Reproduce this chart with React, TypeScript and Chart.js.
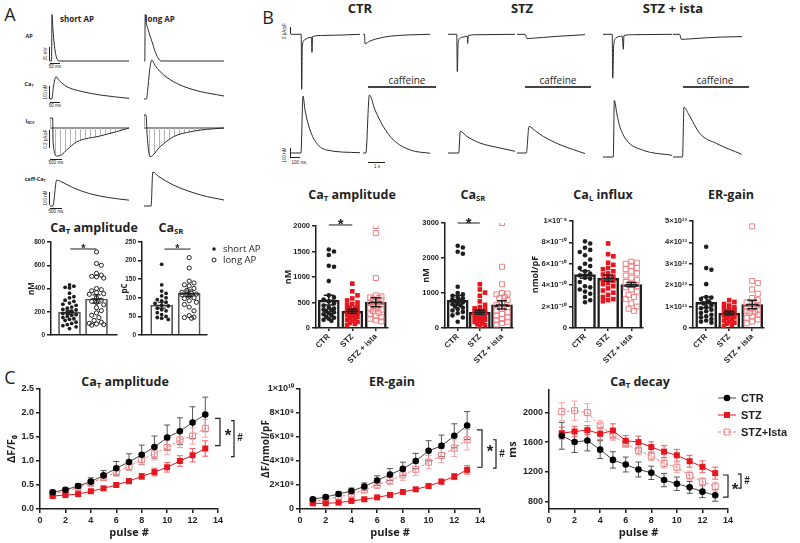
import React, { useEffect, useRef } from "react";
import { Chart, registerables } from "chart.js";

Chart.register(...registerables);

const FONT = "'Liberation Sans', Arial, sans-serif";
const TFONT = "'Open Sans', 'Liberation Sans', sans-serif";
const INK = "#1f1f1f";
const RED = "#e5161e";
const PINK = "#ee8085";
const GREY = "#555555";

// ================= DATA =================
// ---- Panel A (bar + scatter) ----
const aGroups = ["short AP", "long AP"];
const aAmpShort = [430, 420, 410, 405, 360, 330, 320, 300, 290, 275, 265, 255, 240, 230, 220, 215, 205, 195, 185, 175, 170, 160, 150, 140, 135, 125, 110, 100, 90, 80, 70, 55];
const aAmpLong = [715, 615, 600, 530, 515, 505, 500, 490, 400, 390, 380, 365, 355, 350, 320, 300, 290, 280, 260, 235, 210, 190, 170, 150, 125, 110, 100, 95, 90, 85];
const aAmpMean = [195, 310];
const aAmpSem = [18, 35];
const aAmpTicks = [0, 200, 400, 600, 800];
const aAmpTickLabels = ["0", "200", "400", "600", "800"];
const aSrShort = [190, 135, 118, 112, 105, 100, 95, 92, 88, 85, 80, 78, 72, 68, 65, 60, 55, 50, 47, 45, 42];
const aSrLong = [208, 180, 145, 140, 135, 132, 125, 120, 115, 112, 110, 110, 108, 105, 100, 98, 92, 88, 82, 75, 65, 52, 48, 47, 45];
const aSrMean = [80, 112];
const aSrSem = [8, 9];
const aSrTicks = [0, 50, 100, 150, 200, 250];
const aSrTickLabels = ["0", "50", "100", "150", "200", "250"];

// ---- Panel B (bar + scatter) ----
const bGroups = ["CTR", "STZ", "STZ + ista"];
const bAmpCTR = [1540, 1500, 1430, 1220, 1200, 920, 640, 600, 560, 520, 480, 440, 400, 380, 360, 350, 330, 310, 290, 270, 250, 220, 200, 180, 160, 140];
const bAmpSTZ = [870, 720, 640, 580, 540, 500, 470, 450, 420, 400, 385, 370, 355, 340, 330, 320, 310, 300, 290, 280, 270, 255, 240, 220, 200, 180, 160, 140, 120, 100, 80, 60];
const bAmpIsta = [2000, 1860, 980, 640, 620, 600, 590, 560, 540, 510, 490, 470, 440, 420, 400, 380, 360, 330, 300, 270, 240, 210, 180, 150, 130];
const bAmpMean = [545, 330, 505];
const bAmpSem = [95, 40, 90];
const bAmpTicks = [0, 500, 1000, 1500, 2000];
const bAmpTickLabels = ["0", "500", "1000", "1500", "2000"];

const bSrCTR = [2350, 2300, 2180, 2120, 1180, 1000, 960, 920, 880, 850, 820, 790, 760, 730, 700, 680, 650, 610, 580, 540, 500, 460, 420, 360, 300, 180];
const bSrSTZ = [1250, 1100, 1010, 920, 760, 660, 600, 560, 530, 500, 480, 460, 440, 420, 400, 385, 370, 350, 330, 310, 290, 270, 250, 230, 200, 170, 140, 110, 80, 50];
const bSrIsta = [3000, 1750, 1250, 1000, 980, 960, 900, 850, 800, 720, 650, 600, 550, 500, 450, 400, 350, 300, 260, 220, 180, 140, 100];
const bSrMean = [790, 450, 660];
const bSrSem = [140, 60, 120];
const bSrTicks = [0, 1000, 2000, 3000];
const bSrTickLabels = ["0", "1000", "2000", "3000"];

const bLCTR = [8.1e-10, 7.9e-10, 7.5e-10, 7.3e-10, 7.1e-10, 6.8e-10, 6.4e-10, 6.0e-10, 5.8e-10, 5.6e-10, 5.3e-10, 5.1e-10, 4.9e-10, 4.7e-10, 4.6e-10, 4.3e-10, 3.9e-10, 3.8e-10, 3.6e-10, 3.4e-10, 3.2e-10, 2.9e-10, 2.6e-10, 2.4e-10];
const bLSTZ = [7.9e-10, 6.9e-10, 6.7e-10, 6.1e-10, 5.9e-10, 5.6e-10, 5.5e-10, 5.3e-10, 5.1e-10, 5.0e-10, 4.8e-10, 4.7e-10, 4.5e-10, 4.4e-10, 4.2e-10, 4.1e-10, 3.9e-10, 3.7e-10, 3.5e-10, 3.3e-10, 3.1e-10, 2.9e-10, 2.7e-10, 2.6e-10, 2.5e-10];
const bLIsta = [6.2e-10, 6.1e-10, 6.0e-10, 5.8e-10, 5.6e-10, 5.5e-10, 5.3e-10, 5.1e-10, 4.9e-10, 4.7e-10, 4.5e-10, 4.3e-10, 4.1e-10, 3.9e-10, 3.8e-10, 3.6e-10, 3.4e-10, 3.1e-10, 2.9e-10, 2.7e-10, 2.3e-10, 2.0e-10, 1.8e-10, 1.6e-10];
const bLMean = [5.0e-10, 4.65e-10, 4.05e-10];
const bLSem = [0.35e-10, 0.28e-10, 0.2e-10];
const bLTicks = [0, 2e-10, 4e-10, 6e-10, 8e-10, 1e-9];
const bLTickLabels = ["0", "2×10⁻¹⁰", "4×10⁻¹⁰", "6×10⁻¹⁰", "8×10⁻¹⁰", "1×10⁻⁹"];

const bErCTR = [3.8e13, 2.8e13, 2.72e13, 2.05e13, 1.45e13, 1.42e13, 1.35e13, 1.25e13, 1.15e13, 1.05e13, 0.98e13, 0.92e13, 0.85e13, 0.78e13, 0.7e13, 0.62e13, 0.55e13, 0.5e13, 0.42e13, 0.35e13, 0.3e13, 0.25e13];
const bErSTZ = [1.3e13, 1.22e13, 1.12e13, 1.05e13, 0.98e13, 0.92e13, 0.88e13, 0.84e13, 0.8e13, 0.76e13, 0.72e13, 0.7e13, 0.68e13, 0.65e13, 0.62e13, 0.58e13, 0.55e13, 0.5e13, 0.45e13, 0.4e13, 0.35e13, 0.3e13, 0.25e13, 0.2e13, 0.15e13, 0.1e13];
const bErIsta = [4.75e13, 2.2e13, 2.1e13, 1.8e13, 1.6e13, 1.4e13, 1.3e13, 1.2e13, 1.12e13, 1.05e13, 0.98e13, 0.92e13, 0.86e13, 0.8e13, 0.75e13, 0.7e13, 0.62e13, 0.55e13, 0.48e13, 0.4e13, 0.3e13, 0.22e13];
const bErMean = [1.2e13, 0.7e13, 1.1e13];
const bErSem = [0.25e13, 0.08e13, 0.2e13];
const bErTicks = [0, 1e13, 2e13, 3e13, 4e13, 5e13];
const bErTickLabels = ["0", "1×10¹³", "2×10¹³", "3×10¹³", "4×10¹³", "5×10¹³"];

// ---- Panel C (line + error bars) ----
const pulses = [1, 2, 3, 4, 5, 6, 7, 8, 9, 10, 11, 12, 13];
const pulseTicks = [0, 2, 4, 6, 8, 10, 12, 14];
const pulseTickLabels = ["0", "2", "4", "6", "8", "10", "12", "14"];

const cAmpCTR = [0.35, 0.40, 0.48, 0.57, 0.70, 0.85, 0.98, 1.13, 1.29, 1.49, 1.62, 1.80, 1.97];
const cAmpCTRErr = [0.04, 0.04, 0.05, 0.08, 0.10, 0.14, 0.17, 0.20, 0.23, 0.26, 0.28, 0.33, 0.36];
const cAmpSTZ = [0.27, 0.29, 0.31, 0.37, 0.43, 0.50, 0.58, 0.68, 0.77, 0.87, 1.00, 1.12, 1.26];
const cAmpSTZErr = [0.02, 0.02, 0.03, 0.03, 0.04, 0.04, 0.05, 0.06, 0.08, 0.10, 0.11, 0.14, 0.16];
const cAmpIsta = [0.32, 0.37, 0.45, 0.54, 0.66, 0.76, 0.89, 1.03, 1.15, 1.28, 1.44, 1.52, 1.68];
const cAmpIstaErr = [0.03, 0.04, 0.05, 0.06, 0.07, 0.08, 0.09, 0.11, 0.13, 0.15, 0.16, 0.17, 0.18];
const cAmpTicks = [0, 0.5, 1, 1.5, 2, 2.5];
const cAmpTickLabels = ["0.0", "0.5", "1.0", "1.5", "2.0", "2.5"];

const cErCTR = [0.81e9, 1.0e9, 1.25e9, 1.5e9, 1.87e9, 2.37e9, 2.87e9, 3.34e9, 4.0e9, 4.85e9, 5.26e9, 6.1e9, 6.96e9];
const cErCTRErr = [0.12e9, 0.15e9, 0.2e9, 0.25e9, 0.3e9, 0.4e9, 0.5e9, 0.56e9, 0.64e9, 0.84e9, 0.9e9, 1.0e9, 1.17e9];
const cErSTZ = [0.47e9, 0.47e9, 0.53e9, 0.67e9, 0.81e9, 0.97e9, 1.17e9, 1.42e9, 1.64e9, 1.92e9, 2.28e9, 2.7e9, 3.26e9];
const cErSTZErr = [0.05e9, 0.05e9, 0.06e9, 0.07e9, 0.08e9, 0.09e9, 0.1e9, 0.12e9, 0.14e9, 0.16e9, 0.2e9, 0.25e9, 0.35e9];
const cErIsta = [0.61e9, 0.8e9, 1.03e9, 1.22e9, 1.59e9, 2.0e9, 2.37e9, 2.84e9, 3.31e9, 3.9e9, 4.46e9, 5.07e9, 5.77e9];
const cErIstaErr = [0.12e9, 0.15e9, 0.18e9, 0.2e9, 0.25e9, 0.3e9, 0.35e9, 0.45e9, 0.5e9, 0.55e9, 0.6e9, 0.7e9, 0.85e9];
const cErTicks = [0, 2e9, 4e9, 6e9, 8e9, 1e10];
const cErTickLabels = ["0", "2×10⁹", "4×10⁹", "6×10⁹", "8×10⁹", "1×10¹⁰"];

const cDecCTR = [1684, 1600, 1622, 1498, 1360, 1298, 1231, 1187, 1089, 1040, 991, 933, 884];
const cDecCTRErr = [180, 140, 140, 120, 110, 100, 100, 90, 90, 90, 80, 80, 80];
const cDecSTZ = [1720, 1742, 1760, 1711, 1755, 1618, 1600, 1533, 1471, 1422, 1342, 1267, 1182];
const cDecSTZErr = [80, 70, 60, 80, 90, 70, 80, 70, 80, 80, 80, 80, 80];
const cDecIsta = [2009, 2022, 1996, 1818, 1684, 1578, 1489, 1409, 1311, 1262, 1151, 1067, 1000];
const cDecIstaErr = [120, 130, 120, 70, 60, 50, 60, 60, 60, 70, 60, 50, 60];
const cDecTicks = [800, 1200, 1600, 2000];
const cDecTickLabels = ["800", "1200", "1600", "2000"];
const cLegend = ["CTR", "STZ", "STZ+Ista"];

// ---- Trace samples [time, value] ----
// Panel A: AP (mV, ms), Ca transient (nM, ms), I_NCX (pA/pF, ms), caffeine Ca (nM, ms)
const apShort = [[0, -80], [8, -80], [10, 40], [14, 10], [20, -30], [28, -60], [36, -75], [45, -80], [400, -80]];
const apLong = [[0, -80], [4, -80], [6, 40], [10, 22], [20, 2], [30, -15], [40, -30], [55, -55], [70, -72], [85, -80], [400, -80]];
const catShort = [[0, 100], [9, 100], [18, 200], [30, 272], [45, 245], [85, 195], [167, 156], [253, 131], [400, 105]];
const catLong = [[0, 100], [12, 100], [18, 160], [28, 320], [39, 400], [55, 360], [81, 310], [148, 233], [250, 170], [400, 123]];
const ncxShort = [[0, 0.15], [115, 0.15], [130, -0.2], [285, -0.42], [500, -0.4], [712, -0.33], [1136, -0.21], [2134, -0.12], [2846, -0.055], [3375, 0]];
const ncxLong = [[0, 0.195], [85, 0.195], [130, -0.1], [256, -0.43], [683, -0.28], [1251, -0.13], [1964, -0.055], [2677, -0.02], [3375, 0]];
const caffShort = [[0, 100], [120, 100], [286, 300], [450, 290], [1000, 240], [1700, 195], [2500, 165], [3375, 145]];
const caffLong = [[0, 100], [300, 100], [370, 362], [600, 330], [1238, 262], [2391, 185], [3375, 146]];
// Panel B: membrane current (pA/pF) and Ca (nM) for pulse and caffeine
const ctrPulseI = [[0, 0], [95, 0], [100, -14.3], [106, -3], [125, -1.5], [160, -0.9], [192, -0.8], [196, -4.7], [202, -0.6], [300, -0.3], [645, 0]];
const ctrCaffI = [[0, 0], [90, 0], [120, -2.4], [400, -1.8], [700, -1.3], [1600, -0.5], [2800, -0.15], [4000, 0]];
const stzPulseI = [[0, 0], [82, 0], [87, -9.7], [95, -2], [130, -0.8], [180, -0.5], [184, -2.4], [190, -0.3], [300, -0.1], [627, 0]];
const stzCaffI = [[0, 0], [480, 0], [600, -1.1], [1000, -1.0], [1600, -0.8], [2500, -0.5], [4080, -0.1]];
const istaPulseI = [[0, 0], [86, 0], [91, -11.4], [100, -3], [120, -1], [180, -0.5], [190, -3.9], [196, -0.3], [300, -0.1], [645, 0]];
const istaCaffI = [[0, 0], [400, 0], [500, -1.3], [1000, -1.2], [2000, -0.9], [3000, -0.7], [4140, -0.6]];
const ctrPulseCa = [[0, 100], [93, 100], [112, 898], [131, 702], [178, 422], [240, 236], [334, 142], [645, 104]];
const ctrCaffCa = [[0, 100], [170, 100], [380, 912], [720, 702], [1218, 468], [1818, 282], [2820, 142], [4000, 96]];
const stzPulseCa = [[0, 100], [100, 100], [115, 404], [175, 334], [299, 240], [486, 170], [627, 124]];
const stzCaffCa = [[0, 100], [560, 100], [720, 472], [1100, 410], [1580, 332], [2580, 216], [4080, 92]];
const istaPulseCa = [[0, 100], [96, 100], [106, 894], [130, 700], [159, 520], [221, 334], [377, 194], [645, 124]];
const istaCaffCa = [[0, 100], [570, 100], [660, 800], [920, 707], [1620, 427], [2620, 288], [4120, 138]];

// ================= HELPERS =================
function swarm(vals: number[], pxPerVal: number, d: number, maxOff: number): number[] {
  const placed: { x: number; y: number }[] = [];
  const cands: number[] = [0];
  for (let k = 1; (k * d) / 2 <= maxOff + 0.01; k++) cands.push((k * d) / 2, (-k * d) / 2);
  return vals.map((v) => {
    const y = v * pxPerVal;
    let best = 0;
    let bestScore = -1;
    for (const c of cands) {
      let mind = Infinity;
      for (const p of placed) {
        const dd = Math.hypot(p.x - c, p.y - y);
        if (dd < mind) mind = dd;
      }
      if (mind >= d) { best = c; break; }
      if (mind > bestScore) { bestScore = mind; best = c; }
    }
    placed.push({ x: best, y });
    return best;
  });
}

function drawMarker(ctx: any, shape: string, x: number, y: number, size: number, color: string, filled: boolean) {
  ctx.beginPath();
  if (shape === "rect") ctx.rect(x - size / 2, y - size / 2, size, size);
  else ctx.arc(x, y, size / 2, 0, Math.PI * 2);
  if (filled) { ctx.fillStyle = color; ctx.fill(); }
  else { ctx.strokeStyle = color; ctx.lineWidth = 1; ctx.stroke(); }
}

function legendPlugin(ox: number, oy: number, items: any[]) {
  return {
    id: "customLegend",
    afterDraw(chart: any) {
      const ctx = chart.ctx;
      ctx.save();
      items.forEach((it) => {
        const x = it.x - ox;
        const y = it.y - oy;
        if (it.line) {
          ctx.strokeStyle = it.lineColor;
          ctx.lineWidth = 1;
          ctx.setLineDash(it.dash || []);
          ctx.beginPath();
          ctx.moveTo(x - it.line, y);
          ctx.lineTo(x + it.line, y);
          ctx.stroke();
          ctx.setLineDash([]);
        }
        drawMarker(ctx, it.shape, x, y, it.size, it.color, it.filled);
        ctx.fillStyle = INK;
        ctx.font = it.font;
        ctx.textAlign = "left";
        ctx.textBaseline = "middle";
        ctx.fillText(it.text, x + it.tdx, y + 0.5);
      });
      ctx.restore();
    },
  };
}

function yAxis(o: any) {
  return {
    type: "linear",
    min: o.min,
    max: o.max,
    afterBuildTicks: (s: any) => { s.ticks = o.ticks.map((v: number) => ({ value: v })); },
    afterFit: (s: any) => { s.width = o.width; },
    ticks: { autoSkip: false, padding: 2, color: INK, font: { family: FONT, size: o.fontSize, weight: "bold" }, callback: (_v: any, i: number) => o.labels[i] },
    grid: { drawOnChartArea: false, drawTicks: true, tickLength: 4, color: INK, lineWidth: 1.5 },
    border: { display: true, color: INK, width: 1.5 },
    title: o.title
      ? { display: true, text: o.title, color: INK, font: { family: TFONT, size: o.titleSize, weight: "bold", lineHeight: 1.2 }, padding: { top: o.titlePad, bottom: 0 } }
      : { display: false },
  };
}

type Spec = { left: number; top: number; width: number; height: number; config: any };

function buildBarScatter(p: any): Spec {
  const padT = p.padT ?? 8;
  const padR = p.padR ?? 6;
  const left = p.L - p.yW;
  const top = p.T - padT;
  const width = p.R - p.L + p.yW + padR;
  const height = p.B - p.T + padT + p.xH;
  const unitPx = (p.R - p.L) / (p.xMax - p.xMin);
  const pxPerVal = (p.B - p.T) / (p.yMax - p.yMin);
  const datasets: any[] = [
    {
      type: "bar",
      data: p.groups.map((g: any, i: number) => ({ x: i, y: g.mean })),
      backgroundColor: "rgba(255,255,255,0)",
      borderColor: p.barColor,
      borderWidth: p.barLW,
      barThickness: p.barW,
      order: 9,
    },
  ];
  p.groups.forEach((g: any, i: number) => {
    const offs = swarm(g.values, pxPerVal, g.size + 0.6, p.barW / 2 - g.size / 2 - 1);
    datasets.push({
      type: "scatter",
      data: g.values.map((v: number, j: number) => ({ x: i + offs[j] / unitPx, y: v })),
      pointStyle: g.shape,
      pointRadius: g.shape === "rect" ? g.size / 2 / Math.SQRT1_2 : g.size / 2,
      pointBackgroundColor: g.filled ? g.color : "rgba(255,255,255,0)",
      pointBorderColor: g.color,
      pointBorderWidth: g.filled ? 0 : 1,
      order: 1,
    });
  });
  const plugins: any[] = [
    {
      id: "meanSem",
      afterDatasetsDraw(chart: any) {
        const { ctx, scales } = chart;
        const x = scales.x;
        const y = scales.y;
        ctx.save();
        ctx.strokeStyle = p.errColor;
        ctx.lineWidth = p.errLW;
        p.groups.forEach((g: any, i: number) => {
          const px = x.getPixelForValue(i);
          const ym = y.getPixelForValue(g.mean);
          const y0 = y.getPixelForValue(g.mean - g.sem);
          const y1 = y.getPixelForValue(g.mean + g.sem);
          ctx.beginPath();
          ctx.moveTo(px - p.meanW / 2, ym); ctx.lineTo(px + p.meanW / 2, ym);
          ctx.moveTo(px, y0); ctx.lineTo(px, y1);
          ctx.moveTo(px - p.capW / 2, y0); ctx.lineTo(px + p.capW / 2, y0);
          ctx.moveTo(px - p.capW / 2, y1); ctx.lineTo(px + p.capW / 2, y1);
          ctx.stroke();
        });
        ctx.restore();
      },
    },
  ];
  if (p.sig) {
    plugins.push({
      id: "sig",
      afterDatasetsDraw(chart: any) {
        const { ctx, scales } = chart;
        const x0 = scales.x.getPixelForValue(p.sig.i0);
        const x1 = scales.x.getPixelForValue(p.sig.i1);
        const yy = scales.y.getPixelForValue(p.sig.v);
        ctx.save();
        ctx.strokeStyle = INK;
        ctx.lineWidth = 1;
        ctx.beginPath();
        ctx.moveTo(x0, yy); ctx.lineTo(x1, yy);
        ctx.stroke();
        ctx.fillStyle = INK;
        ctx.font = `bold ${p.sig.size}px ${FONT}`;
        ctx.textAlign = "center";
        ctx.textBaseline = "alphabetic";
        ctx.fillText("*", (x0 + x1) / 2, yy + p.sig.size * 0.3);
        ctx.restore();
      },
    });
  }
  if (p.legend) plugins.push(legendPlugin(left, top, p.legend));
  const config = {
    type: "bar",
    data: { datasets },
    plugins,
    options: {
      responsive: false,
      animation: false,
      events: [],
      layout: { padding: { top: padT, right: padR, left: 0, bottom: 0 } },
      plugins: { legend: { display: false }, tooltip: { enabled: false }, title: { display: false } },
      scales: {
        x: {
          type: "linear",
          min: p.xMin,
          max: p.xMax,
          offset: false,
          afterBuildTicks: (s: any) => { s.ticks = p.groups.map((_g: any, i: number) => ({ value: i })); },
          afterFit: (s: any) => { s.height = p.xH; },
          ticks: {
            display: !!p.xLabels,
            autoSkip: false,
            minRotation: 45,
            maxRotation: 45,
            padding: 1,
            color: INK,
            font: { family: FONT, size: 8, weight: "bold" },
            callback: (_v: any, i: number) => (p.xLabels ? p.xLabels[i] : ""),
          },
          grid: { drawOnChartArea: false, drawTicks: !!p.xLabels, tickLength: 3, color: INK, lineWidth: 1.5, offset: false },
          border: { display: true, color: p.xAxisColor || INK, width: p.xAxisLW || 1.5 },
        },
        y: yAxis({
          min: p.yMin, max: p.yMax, ticks: p.yTicks, labels: p.yLabels, width: p.yW, fontSize: p.tickSize,
          title: p.yTitle, titleSize: p.yTitleSize || 9, titlePad: p.yTitle ? p.yTitleX - left - ((p.yTitleSize || 9) * 1.2) / 2 : 0,
        }),
      },
    },
  };
  return { left, top, width, height, config };
}

function buildLine(p: any): Spec {
  const padT = 8;
  const left = p.L - p.yW;
  const top = p.T - padT;
  const width = p.R - p.L + p.yW + p.padR;
  const height = p.B - p.T + padT + p.xH;
  const datasets = p.series.map((s: any) => ({
    label: s.label,
    data: pulses.map((x, i) => ({ x, y: s.values[i] })),
    borderColor: s.lineColor,
    borderWidth: 1,
    borderDash: s.dash || [],
    pointStyle: s.shape,
    pointRadius: s.shape === "rect" ? s.size / 2 / Math.SQRT1_2 : s.size / 2,
    pointBackgroundColor: s.filled ? s.color : "rgba(255,255,255,0)",
    pointBorderColor: s.color,
    pointBorderWidth: s.filled ? 0 : 1,
    tension: 0,
    clip: false,
  }));
  const plugins: any[] = [
    {
      id: "errBars",
      beforeDatasetsDraw(chart: any) {
        const { ctx, scales } = chart;
        ctx.save();
        p.series.forEach((s: any) => {
          ctx.strokeStyle = s.errColor;
          ctx.lineWidth = 1;
          pulses.forEach((pp, i) => {
            const px = scales.x.getPixelForValue(pp);
            const y0 = scales.y.getPixelForValue(s.values[i] - s.err[i]);
            const y1 = scales.y.getPixelForValue(s.values[i] + s.err[i]);
            ctx.beginPath();
            ctx.moveTo(px, y0); ctx.lineTo(px, y1);
            ctx.moveTo(px - 3, y0); ctx.lineTo(px + 3, y0);
            ctx.moveTo(px - 3, y1); ctx.lineTo(px + 3, y1);
            ctx.stroke();
          });
        });
        ctx.restore();
      },
    },
    {
      id: "brackets",
      afterDraw(chart: any) {
        const { ctx, chartArea, scales } = chart;
        ctx.save();
        ctx.strokeStyle = INK;
        ctx.lineWidth = 1.2;
        ctx.fillStyle = INK;
        p.brackets.forEach((b: any) => {
          const x = chartArea.right + b.dx;
          const y0 = scales.y.getPixelForValue(b.v0);
          const y1 = scales.y.getPixelForValue(b.v1);
          ctx.beginPath();
          ctx.moveTo(x - b.arm, y0); ctx.lineTo(x, y0); ctx.lineTo(x, y1); ctx.lineTo(x - b.arm, y1);
          ctx.stroke();
          ctx.font = `bold ${b.size}px ${FONT}`;
          ctx.textAlign = "center";
          ctx.textBaseline = "middle";
          ctx.fillText(b.label, x + b.ldx, (y0 + y1) / 2 + b.ly);
        });
        ctx.restore();
      },
    },
  ];
  if (p.legend) plugins.push(legendPlugin(left, top, p.legend));
  const config = {
    type: "line",
    data: { datasets },
    plugins,
    options: {
      responsive: false,
      animation: false,
      events: [],
      layout: { padding: { top: padT, right: p.padR, left: 0, bottom: 0 } },
      plugins: { legend: { display: false }, tooltip: { enabled: false } },
      scales: {
        x: {
          type: "linear",
          min: 0,
          max: 14,
          afterBuildTicks: (s: any) => { s.ticks = pulseTicks.map((v) => ({ value: v })); },
          afterFit: (s: any) => { s.height = p.xH; },
          ticks: { autoSkip: false, maxRotation: 0, padding: 2, color: INK, font: { family: FONT, size: 9, weight: "bold" }, callback: (_v: any, i: number) => pulseTickLabels[i] },
          grid: { drawOnChartArea: false, drawTicks: true, tickLength: 4, color: INK, lineWidth: 1.5 },
          border: { display: true, color: INK, width: 1.5 },
          title: { display: true, text: "pulse #", color: INK, font: { family: TFONT, size: 11, weight: "bold", lineHeight: 1.2 }, padding: { top: 0, bottom: 3.4 } },
        },
        y: yAxis({
          min: p.yMin, max: p.yMax, ticks: p.yTicks, labels: p.yLabels, width: p.yW, fontSize: 9,
          title: p.yTitle, titleSize: p.yTitleSize, titlePad: p.yTitleX - left - (p.yTitleSize * 1.2) / 2,
        }),
      },
    },
  };
  return { left, top, width, height, config };
}

function hatchPattern() {
  const c = document.createElement("canvas");
  c.width = 5;
  c.height = 5;
  const g = c.getContext("2d")!;
  g.fillStyle = "#b4b4b4";
  g.fillRect(0, 0, 1, 5);
  return g.createPattern(c, "repeat");
}

function buildTrace(t: any): Spec {
  const datasets: any[] = [
    {
      data: t.data.map(([x, y]: number[]) => ({ x, y })),
      borderColor: "#2a2a2a",
      borderWidth: 1,
      pointRadius: 0,
      cubicInterpolationMode: "monotone",
      fill: t.hatch ? "origin" : false,
      backgroundColor: t.hatch ? hatchPattern() : "rgba(0,0,0,0)",
      clip: false,
    },
  ];
  if (t.zero) {
    datasets.push({ data: [{ x: 0, y: 0 }, { x: t.tMax, y: 0 }], borderColor: "#2a2a2a", borderWidth: 1, pointRadius: 0, fill: false, clip: false });
  }
  return {
    left: t.left,
    top: t.top,
    width: t.width,
    height: t.height,
    config: {
      type: "line",
      data: { datasets },
      options: {
        responsive: false,
        animation: false,
        events: [],
        layout: { padding: 0 },
        plugins: { legend: { display: false }, tooltip: { enabled: false } },
        scales: { x: { type: "linear", display: false, min: 0, max: t.tMax }, y: { type: "linear", display: false, min: t.yMin, max: t.yMax } },
      },
    },
  };
}

function ChartCanvas({ spec }: { spec: Spec }) {
  const ref = useRef<HTMLCanvasElement | null>(null);
  useEffect(() => {
    const chart = new Chart(ref.current as HTMLCanvasElement, spec.config);
    return () => chart.destroy();
  }, []);
  return (
    <canvas
      ref={ref}
      width={spec.width}
      height={spec.height}
      style={{ position: "absolute", left: spec.left, top: spec.top, width: spec.width, height: spec.height }}
    />
  );
}

const Sub = ({ c }: { c: string }) => (
  <span style={{ fontSize: "0.62em", position: "relative", top: "0.3em" }}>{c}</span>
);

function Txt({ x, y, children, size = 12.5, weight = 700, family = TFONT, rot = 0, color = INK }: any) {
  return (
    <div
      style={{
        position: "absolute", left: x, top: y, transform: `translate(-50%, -50%) rotate(${rot}deg)`,
        fontSize: size, fontWeight: weight, fontFamily: family, color, whiteSpace: "nowrap", lineHeight: 1,
      }}
    >
      {children}
    </div>
  );
}

function Bar({ x, y, w, h, color = INK }: any) {
  return <div style={{ position: "absolute", left: x, top: y, width: w, height: h, background: color }} />;
}

// ================= BUILD SPECS =================
const blackDot = { color: INK, shape: "circle", filled: true };
const redSq = { color: RED, shape: "rect", filled: true };
const pinkSq = { color: PINK, shape: "rect", filled: false };

const bCommon = { yW: 0, xH: 36, barW: 21, barLW: 1.8, barColor: INK, errColor: INK, errLW: 1.5, meanW: 12, capW: 10, tickSize: 7.5, xLabels: bGroups };
function bGroupsOf(vals: number[][], means: number[], sems: number[]) {
  const st = [blackDot, redSq, pinkSq];
  const sz = [4.6, 4.6, 5];
  return vals.map((v, i) => ({ values: v, mean: means[i], sem: sems[i], ...st[i], size: sz[i] }));
}

const specs: Spec[] = [
  // ---- Panel A bars ----
  buildBarScatter({
    L: 51, T: 242, R: 117, B: 335, yW: 26, xH: 6, xMin: -0.685, xMax: 1.759,
    yMin: 0, yMax: 800, yTicks: aAmpTicks, yLabels: aAmpTickLabels, tickSize: 6.5, yTitle: "nM", yTitleX: 32, yTitleSize: 8,
    barW: 22, barLW: 1, barColor: GREY, errColor: INK, errLW: 1.2, meanW: 10, capW: 8,
    groups: [
      { values: aAmpShort, mean: aAmpMean[0], sem: aAmpSem[0], color: INK, shape: "circle", filled: true, size: 3.8 },
      { values: aAmpLong, mean: aAmpMean[1], sem: aAmpSem[1], color: INK, shape: "circle", filled: false, size: 4.2 },
    ],
    sig: { i0: 0.03, i1: 1.0, v: 740, size: 11 },
  }),
  buildBarScatter({
    L: 142, T: 242, R: 207, B: 335, yW: 25, xH: 6, padR: 62, xMin: -0.716, xMax: 1.648,
    yMin: 0, yMax: 250, yTicks: aSrTicks, yLabels: aSrTickLabels, tickSize: 6.5, yTitle: "pC", yTitleX: 125, yTitleSize: 8,
    barW: 22, barLW: 1, barColor: GREY, errColor: INK, errLW: 1.2, meanW: 10, capW: 8,
    groups: [
      { values: aSrShort, mean: aSrMean[0], sem: aSrSem[0], color: INK, shape: "circle", filled: true, size: 3.8 },
      { values: aSrLong, mean: aSrMean[1], sem: aSrSem[1], color: INK, shape: "circle", filled: false, size: 4.2 },
    ],
    sig: { i0: 0.1, i1: 1.05, v: 231, size: 11 },
    legend: [
      { x: 214, y: 249, shape: "circle", size: 3.6, color: INK, filled: true, text: aGroups[0], tdx: 9, font: `9.5px ${TFONT}` },
      { x: 214, y: 260, shape: "circle", size: 4, color: INK, filled: false, text: aGroups[1], tdx: 9, font: `9.5px ${TFONT}` },
    ],
  }),
  // ---- Panel B bars ----
  buildBarScatter({
    ...bCommon, L: 316, T: 226, R: 388, B: 328, yW: 38, xMin: -0.545, xMax: 2.519,
    yMin: 0, yMax: 2000, yTicks: bAmpTicks, yLabels: bAmpTickLabels, yTitle: "nM", yTitleX: 288,
    groups: bGroupsOf([bAmpCTR, bAmpSTZ, bAmpIsta], bAmpMean, bAmpSem),
    sig: { i0: 0, i1: 1, v: 2020, size: 15 },
  }),
  buildBarScatter({
    ...bCommon, L: 445, T: 223, R: 513, B: 328, yW: 28, xMin: -0.573, xMax: 2.497,
    yMin: 0, yMax: 3000, yTicks: bSrTicks, yLabels: bSrTickLabels, yTitle: "nM", yTitleX: 426,
    groups: bGroupsOf([bSrCTR, bSrSTZ, bSrIsta], bSrMean, bSrSem),
    sig: { i0: 0, i1: 1, v: 3000, size: 15 },
  }),
  buildBarScatter({
    ...bCommon, L: 573, T: 221, R: 643, B: 328, yW: 45, xMin: -0.518, xMax: 2.506,
    yMin: 0, yMax: 1e-9, yTicks: bLTicks, yLabels: bLTickLabels, yTitle: "nmol/pF", yTitleX: 535,
    groups: bGroupsOf([bLCTR, bLSTZ, bLIsta], bLMean, bLSem),
  }),
  buildBarScatter({
    ...bCommon, L: 693, T: 221, R: 764, B: 328, yW: 40, xMin: -0.574, xMax: 2.513,
    yMin: 0, yMax: 5e13, yTicks: bErTicks, yLabels: bErTickLabels,
    groups: bGroupsOf([bErCTR, bErSTZ, bErIsta], bErMean, bErSem),
  }),
];

function cSeries(ctr: number[], ctrE: number[], stz: number[], stzE: number[], ista: number[], istaE: number[]) {
  return [
    { label: cLegend[0], values: ctr, err: ctrE, color: "#000", lineColor: "#444", errColor: "#555", shape: "circle", filled: true, size: 6.6 },
    { label: cLegend[1], values: stz, err: stzE, color: RED, lineColor: RED, errColor: "#f05a5e", shape: "rect", filled: true, size: 6 },
    { label: cLegend[2], values: ista, err: istaE, color: PINK, lineColor: PINK, errColor: "#f3a3a6", shape: "rect", filled: false, size: 6, dash: [3, 2] },
  ];
}

specs.push(
  buildLine({
    L: 40, T: 389, R: 218, B: 509, yW: 40, xH: 34, padR: 45,
    yMin: 0, yMax: 2.5, yTicks: cAmpTicks, yLabels: cAmpTickLabels, yTitle: "ΔF/F₀", yTitleX: 12, yTitleSize: 11,
    series: cSeries(cAmpCTR, cAmpCTRErr, cAmpSTZ, cAmpSTZErr, cAmpIsta, cAmpIstaErr),
    brackets: [
      { dx: 2, arm: 5, v0: 1.89, v1: 1.32, label: "*", ldx: 8, ly: 4, size: 17 },
      { dx: 16, arm: 3, v0: 1.84, v1: 1.09, label: "#", ldx: 6, ly: 0, size: 10 },
    ],
  }),
  buildLine({
    L: 300, T: 389, R: 480, B: 509, yW: 45, xH: 34, padR: 30,
    yMin: 0, yMax: 1e10, yTicks: cErTicks, yLabels: cErTickLabels, yTitle: "ΔF/nmol/pF", yTitleX: 266, yTitleSize: 10,
    series: cSeries(cErCTR, cErCTRErr, cErSTZ, cErSTZErr, cErIsta, cErIstaErr),
    brackets: [
      { dx: 2, arm: 5, v0: 6.6e9, v1: 3.48e9, label: "*", ldx: 8, ly: 4, size: 17 },
      { dx: 16, arm: 3, v0: 5.77e9, v1: 3.4e9, label: "#", ldx: 6, ly: 0, size: 10 },
    ],
  }),
  buildLine({
    L: 549, T: 390, R: 728, B: 509, yW: 44, xH: 34, padR: 72,
    yMin: 700, yMax: 2300, yTicks: cDecTicks, yLabels: cDecTickLabels, yTitle: "ms", yTitleX: 513, yTitleSize: 11,
    series: cSeries(cDecCTR, cDecCTRErr, cDecSTZ, cDecSTZErr, cDecIsta, cDecIstaErr),
    brackets: [
      { dx: 0, arm: 5, v0: 1157, v1: 861, label: "*", ldx: 7, ly: 4, size: 17 },
      { dx: 13, arm: 3, v0: 1170, v1: 982, label: "#", ldx: 6, ly: 0, size: 10 },
    ],
    legend: [
      { x: 727, y: 398, line: 9, lineColor: "#444", shape: "circle", size: 6.6, color: "#000", filled: true, text: cLegend[0], tdx: 14, font: `bold 11px ${FONT}` },
      { x: 727, y: 415, line: 9, lineColor: RED, shape: "rect", size: 6, color: RED, filled: true, text: cLegend[1], tdx: 14, font: `bold 11px ${FONT}` },
      { x: 727, y: 432, line: 9, lineColor: PINK, dash: [3, 2], shape: "rect", size: 6, color: PINK, filled: false, text: cLegend[2], tdx: 14, font: `bold 11px ${FONT}` },
    ],
  }),
);

// ---- traces ----
const traceSpecs: Spec[] = [
  // Panel A
  buildTrace({ left: 50, top: 12, width: 79, height: 50, data: apShort, tMax: 400, yMin: -82.6, yMax: 46.5 }),
  buildTrace({ left: 144, top: 12, width: 80, height: 50, data: apLong, tMax: 400, yMin: -82.6, yMax: 46.5 }),
  buildTrace({ left: 50, top: 55, width: 79, height: 46, data: catShort, tMax: 400, yMin: 84.6, yMax: 439 }),
  buildTrace({ left: 144, top: 55, width: 80, height: 46, data: catLong, tMax: 400, yMin: 84.6, yMax: 439 }),
  buildTrace({ left: 50, top: 112, width: 79, height: 48, data: ncxShort, tMax: 3375, yMin: -0.48, yMax: 0.24, zero: true, hatch: true }),
  buildTrace({ left: 144, top: 112, width: 80, height: 48, data: ncxLong, tMax: 3375, yMin: -0.48, yMax: 0.24, zero: true, hatch: true }),
  buildTrace({ left: 50, top: 168, width: 79, height: 40, data: caffShort, tMax: 3375, yMin: 84.6, yMax: 393 }),
  buildTrace({ left: 144, top: 168, width: 80, height: 40, data: caffLong, tMax: 3375, yMin: 84.6, yMax: 393 }),
  // Panel B currents
  buildTrace({ left: 291, top: 26, width: 69, height: 66, data: ctrPulseI, tMax: 645, yMin: -15, yMax: 2.16 }),
  buildTrace({ left: 363, top: 26, width: 67, height: 66, data: ctrCaffI, tMax: 4000, yMin: -15, yMax: 2.16 }),
  buildTrace({ left: 448, top: 26, width: 67, height: 66, data: stzPulseI, tMax: 627, yMin: -15, yMax: 2.16 }),
  buildTrace({ left: 517, top: 26, width: 68, height: 66, data: stzCaffI, tMax: 4080, yMin: -15, yMax: 2.16 }),
  buildTrace({ left: 603, top: 26, width: 69, height: 66, data: istaPulseI, tMax: 645, yMin: -15, yMax: 2.16 }),
  buildTrace({ left: 673, top: 26, width: 69, height: 66, data: istaCaffI, tMax: 4140, yMin: -15, yMax: 2.16 }),
  // Panel B calcium
  buildTrace({ left: 291, top: 92, width: 69, height: 68, data: ctrPulseCa, tMax: 645, yMin: 2, yMax: 954 }),
  buildTrace({ left: 363, top: 92, width: 67, height: 68, data: ctrCaffCa, tMax: 4000, yMin: 2, yMax: 954 }),
  buildTrace({ left: 448, top: 92, width: 67, height: 68, data: stzPulseCa, tMax: 627, yMin: 2, yMax: 954 }),
  buildTrace({ left: 517, top: 92, width: 68, height: 68, data: stzCaffCa, tMax: 4080, yMin: 2, yMax: 954 }),
  buildTrace({ left: 603, top: 96, width: 69, height: 68, data: istaPulseCa, tMax: 645, yMin: 2, yMax: 954 }),
  buildTrace({ left: 673, top: 96, width: 69, height: 68, data: istaCaffCa, tMax: 4140, yMin: 2, yMax: 954 }),
];

export default function App() {
  const small = { size: 4.5, weight: 400, family: FONT };
  return (
    <div style={{ position: "absolute", left: 0, top: 0, width: 800, height: 543, background: "#fff", overflow: "hidden" }}>
      {/* panel letters */}
      <Txt x={10} y={14} size={18} weight={400}>A</Txt>
      <Txt x={268} y={17} size={18} weight={400}>B</Txt>
      <Txt x={10} y={377} size={18} weight={400}>C</Txt>

      {/* Panel A trace headers and labels */}
      <Txt x={77} y={19} size={8}>short AP</Txt>
      <Txt x={160} y={19} size={8}>long AP</Txt>
      <Txt x={29} y={37} size={5.5}>AP</Txt>
      <Txt x={29} y={85} size={5.5}>Ca<Sub c="T" /></Txt>
      <Txt x={30} y={122} size={5.5}>I<Sub c="NCX" /></Txt>
      <Txt x={35} y={180} size={5.5}>caff-Ca<Sub c="T" /></Txt>
      {/* Panel A scale bars */}
      <Bar x={49} y={47} w={1} h={14} />
      <Txt x={46} y={54} rot={-90} {...small}>20 mV</Txt>
      <Bar x={50} y={63} w={10} h={1} />
      <Txt x={55} y={67} {...small}>50 ms</Txt>
      <Bar x={49} y={86} w={1} h={13} />
      <Txt x={46} y={92} rot={-90} {...small}>100 nM</Txt>
      <Bar x={50} y={102} w={10} h={1} />
      <Txt x={55} y={106} {...small}>50 ms</Txt>
      <Bar x={49} y={130} w={1} h={18} />
      <Txt x={46} y={139} rot={-90} {...small}>0.2 pA/pF</Txt>
      <Bar x={50} y={159} w={12} h={1} />
      <Txt x={56} y={163} {...small}>500 ms</Txt>
      <Bar x={49} y={192} w={1} h={13} />
      <Txt x={46} y={198} rot={-90} {...small}>100 nM</Txt>
      <Bar x={50} y={208} w={12} h={1} />
      <Txt x={56} y={212} {...small}>500 ms</Txt>

      {/* Panel A chart titles */}
      <Txt x={94} y={228}>Ca<Sub c="T" /> amplitude</Txt>
      <Txt x={171} y={228}>Ca<Sub c="SR" /></Txt>

      {/* Panel B headers */}
      <Txt x={360} y={8} size={13}>CTR</Txt>
      <Txt x={522} y={8} size={13}>STZ</Txt>
      <Txt x={673} y={8} size={13}>STZ + ista</Txt>
      {/* caffeine markers */}
      <Txt x={407} y={80} size={10} weight={400}>caffeine</Txt>
      <Bar x={368} y={86} w={68} h={1.5} color="#444" />
      <Txt x={558} y={80} size={10} weight={400}>caffeine</Txt>
      <Bar x={525} y={86} w={66} h={1.5} color="#444" />
      <Txt x={715} y={80} size={10} weight={400}>caffeine</Txt>
      <Bar x={683} y={86} w={66} h={1.5} color="#444" />
      {/* Panel B scale bars */}
      <Bar x={290} y={27} w={1} h={7} />
      <Txt x={285} y={31} rot={-90} {...small}>2 pA/pF</Txt>
      <Bar x={290} y={148} w={1} h={9} />
      <Txt x={285} y={155} rot={-90} {...small}>100 nM</Txt>
      <Bar x={290} y={157} w={10} h={1} />
      <Txt x={299} y={163} {...small}>100 ms</Txt>
      <Bar x={368} y={162} w={17} h={1} />
      <Txt x={377} y={167} {...small}>1 s</Txt>

      {/* Panel B chart titles */}
      <Txt x={352} y={195}>Ca<Sub c="T" /> amplitude</Txt>
      <Txt x={473} y={195}>Ca<Sub c="SR" /></Txt>
      <Txt x={603} y={195}>Ca<Sub c="L" /> influx</Txt>
      <Txt x={731} y={195}>ER-gain</Txt>

      {/* Panel C chart titles */}
      <Txt x={125} y={382}>Ca<Sub c="T" /> amplitude</Txt>
      <Txt x={392} y={382}>ER-gain</Txt>
      <Txt x={640} y={382}>Ca<Sub c="T" /> decay</Txt>

      {traceSpecs.map((s, i) => (
        <ChartCanvas key={"t" + i} spec={s} />
      ))}
      {specs.map((s, i) => (
        <ChartCanvas key={"c" + i} spec={s} />
      ))}
    </div>
  );
}
